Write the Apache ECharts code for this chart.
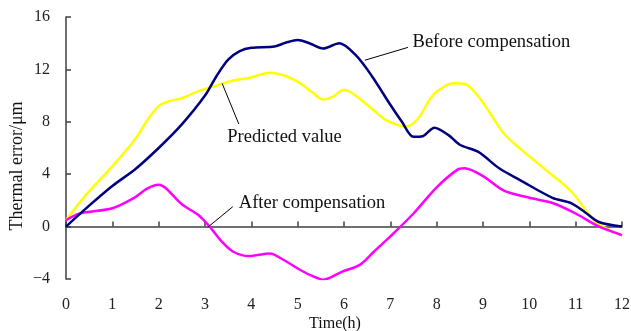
<!DOCTYPE html>
<html>
<head>
<meta charset="utf-8">
<script src="https://cdn.jsdelivr.net/npm/echarts@6/dist/echarts.min.js"></script>
<style>
  html, body { margin: 0; padding: 0; background: #fff; }
  #main { width: 631px; height: 331px; }
</style>
</head>
<body>
<div id="main"></div>
<script>
// readings from the figure, time in hours, error in micrometres
var beforeTime = [0, 0.5, 1, 1.5, 2, 2.5, 3, 3.25, 3.5, 3.75, 4, 4.5, 4.75, 5, 5.25, 5.55, 5.9, 6.25, 6.6, 7, 7.25, 7.5, 7.7, 7.95, 8.25, 8.5, 8.9, 9.35, 9.8, 10.5, 10.9, 11.2, 11.5, 12];
var beforeVal  = [0, 1.6, 3.1, 4.4, 6.0, 7.8, 10.0, 11.5, 12.75, 13.4, 13.65, 13.75, 14.05, 14.25, 14.0, 13.6, 14.0, 13.1, 11.5, 9.3, 8.0, 6.85, 6.9, 7.55, 7.0, 6.25, 5.7, 4.45, 3.55, 2.2, 1.8, 1.1, 0.35, 0.0];

var predTime = [0, 0.45, 1, 1.5, 1.75, 2, 2.2, 2.5, 2.9, 3.1, 3.6, 3.95, 4.4, 4.7, 5.05, 5.3, 5.55, 5.75, 6.0, 6.55, 6.9, 7.35, 7.6, 7.85, 8.0, 8.35, 8.6, 8.95, 9.45, 9.8, 10.35, 10.8, 11.0, 11.45, 12];
var predVal  = [0.5, 2.5, 4.6, 6.7, 8.1, 9.2, 9.55, 9.8, 10.4, 10.6, 11.15, 11.35, 11.75, 11.55, 10.95, 10.3, 9.7, 9.9, 10.45, 9.15, 8.15, 7.65, 8.25, 9.7, 10.3, 10.95, 10.9, 9.7, 7.1, 5.95, 4.35, 3.05, 2.3, 0.3, -0.65];

var afterTime = [0, 0.3, 1, 1.45, 1.75, 2.0, 2.15, 2.5, 2.85, 3.1, 3.35, 3.6, 3.95, 4.4, 4.7, 5.0, 5.3, 5.55, 5.95, 6.35, 6.65, 7, 7.5, 8.0, 8.45, 8.6, 9.0, 9.45, 10.0, 10.5, 11.0, 11.45, 12];
var afterVal  = [0.5, 1.0, 1.4, 2.15, 2.9, 3.2, 2.95, 1.7, 0.9, 0.0, -1.1, -1.9, -2.25, -2.05, -2.55, -3.2, -3.75, -4.05, -3.45, -2.9, -1.9, -0.75, 1.0, 3.0, 4.35, 4.45, 3.85, 2.75, 2.2, 1.8, 1.0, 0.1, -0.65];

// callout labels: [time, value] of leader start, leader end, text anchor
var beforeNote = { text: 'Before compensation', from: [6.45, 12.7], to: [7.38, 13.68], at: [7.48, 14.1] };
var predNote   = { text: 'Predicted value',     from: [3.37, 10.93], to: [3.73, 7.83], at: [3.48, 6.86] };
var afterNote  = { text: 'After compensation',  from: [3.06, -0.05], to: [3.6, 1.52],  at: [3.73, 1.78] };

var serif = '"Liberation Serif", "Times New Roman", serif';

function pairs(xs, ys) {
  return xs.map(function (x, i) { return [x, ys[i]]; });
}

function line(name, color, xs, ys, n) {
  return {
    name: name,
    type: 'line',
    data: pairs(xs, ys),
    smooth: 0.3,
    showSymbol: false,
    symbol: 'none',
    lineStyle: { color: color, width: 2.5 },
    itemStyle: { color: color },
    markLine: {
      silent: true,
      symbol: ['none', 'none'],
      label: { show: false },
      lineStyle: { color: '#000', width: 1, type: 'solid' },
      data: [[{ coord: n.from }, { coord: n.to }]]
    },
    markPoint: {
      silent: true,
      symbol: 'circle',
      symbolSize: 0,
      label: {
        show: true,
        position: 'right',
        distance: 0,
        formatter: n.text,
        color: '#111',
        fontFamily: serif,
        fontSize: 18.5
      },
      data: [{ coord: n.at }]
    }
  };
}

var chart = echarts.init(document.getElementById('main'));
var axisColor = '#404040';

chart.setOption({
  animation: false,
  backgroundColor: '#fff',
  grid: { left: 66, right: 9, top: 17, bottom: 52, outerBoundsMode: 'none', containLabel: false },
  xAxis: {
    type: 'value',
    min: 0,
    max: 12,
    interval: 1,
    name: 'Time(h)',
    nameLocation: 'middle',
    nameGap: 37,
    nameMoveOverlap: false,
    nameTextStyle: { color: '#111', fontFamily: serif, fontSize: 16, padding: [0, 18, 0, 0] },
    axisLine: { lineStyle: { color: axisColor, width: 1.5 } },
    axisTick: { inside: true, length: 5, lineStyle: { color: axisColor, width: 1.5 } },
    axisLabel: { margin: 18, color: '#222', fontFamily: serif, fontSize: 16 },
    splitLine: { show: false }
  },
  yAxis: {
    type: 'value',
    min: -4,
    max: 16,
    interval: 4,
    name: 'Thermal error/μm',
    nameLocation: 'middle',
    nameRotate: 90,
    nameGap: 40,
    nameMoveOverlap: false,
    nameTextStyle: { color: '#111', fontFamily: serif, fontSize: 18, padding: [0, 36, 0, 0] },
    axisLine: { show: true, lineStyle: { color: axisColor, width: 1.5 } },
    axisTick: { show: true, inside: true, length: 5, lineStyle: { color: axisColor, width: 1.5 } },
    axisLabel: {
      margin: 16,
      color: '#222',
      fontFamily: serif,
      fontSize: 16,
      formatter: function (v) { return String(v).replace('-', '\u2212'); }
    },
    splitLine: { show: false }
  },
  series: [
    line('Predicted value', '#FFFF00', predTime, predVal, predNote),
    line('After compensation', '#FF00FF', afterTime, afterVal, afterNote),
    line('Before compensation', '#000080', beforeTime, beforeVal, beforeNote)
  ]
});
</script>
</body>
</html>
